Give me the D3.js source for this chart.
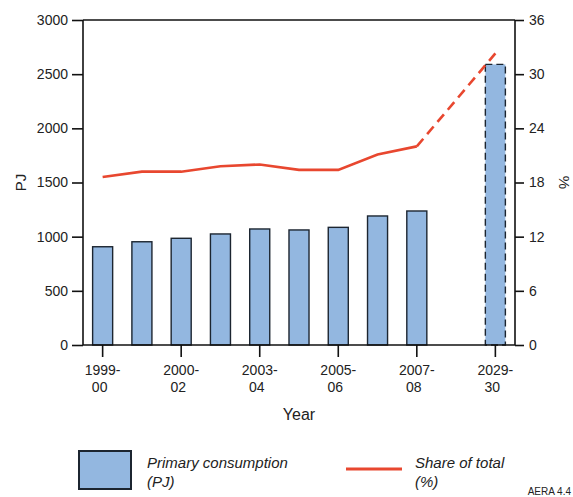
<!DOCTYPE html>
<html>
<head>
<meta charset="utf-8">
<script src="https://cdn.jsdelivr.net/npm/d3@7"></script>
<style>
  body { margin: 0; background: #fff; }
  svg text { font-family: "Liberation Sans", Arial, sans-serif; fill: #222; }
</style>
</head>
<body>
<div id="canvas"></div>
<script>
// data
var years = ["1999-00","2000-01","2000-02","2002-03","2003-04","2004-05","2005-06","2006-07","2007-08","","2029-30"];
var tickYears = ["1999-00","2000-02","2003-04","2005-06","2007-08","2029-30"];
var consumption = [907, 953, 985, 1025, 1071, 1062, 1086, 1191, 1237, null, 2590];
var share = [18.6, 19.2, 19.2, 19.8, 20.0, 19.4, 19.4, 21.1, 22.0, null, 32.3];
var leftTicks = [0, 500, 1000, 1500, 2000, 2500, 3000];
var rightTicks = [0, 6, 12, 18, 24, 30, 36];

var W = 573, H = 497;
var m = {t:20, r:58, b:152, l:83};
var w = W - m.l - m.r, h = H - m.t - m.b;

var svg = d3.select('#canvas').append('svg')
    .attr('width', W).attr('height', H);
var plot = svg.append('g').attr('transform', 'translate(' + m.l + ',' + m.t + ')');

var pad = 0.49;
var x = d3.scaleBand().domain(years).range([0, w]).paddingInner(pad).paddingOuter(pad / 2);
var yL = d3.scaleLinear().domain([0, 3000]).range([h, 0]);
var yR = d3.scaleLinear().domain([0, 36]).range([h, 0]);

var blue = '#93b7e0', dark = '#1c2530', red = '#e8472f';

// bars
var rows = years.map(function(d, i){ return {year:d, pj:consumption[i], pct:share[i], i:i}; });
plot.selectAll('rect.bar')
    .data(rows.filter(function(d){ return d.pj != null; }))
    .enter().append('rect')
    .attr('class', 'bar')
    .attr('x', function(d){ return x(d.year); })
    .attr('y', function(d){ return yL(d.pj); })
    .attr('width', x.bandwidth())
    .attr('height', function(d){ return h - yL(d.pj); })
    .attr('fill', blue)
    .attr('stroke', dark)
    .attr('stroke-width', 1.4)
    .attr('stroke-dasharray', function(d){ return d.year == '2029-30' ? '7,4' : null; });

// share line: solid for history, dashed to projection
var cx = function(d){ return x(d.year) + x.bandwidth() / 2; };
var line = d3.line().x(cx).y(function(d){ return yR(d.pct); });
var hist = rows.filter(function(d){ return d.pct != null && d.year != '2029-30'; });
var proj = [hist[hist.length - 1], rows[rows.length - 1]];
plot.append('path').datum(hist).attr('d', line)
    .attr('fill', 'none').attr('stroke', red).attr('stroke-width', 2.6);
plot.append('path').datum(proj).attr('d', line)
    .attr('fill', 'none').attr('stroke', red).attr('stroke-width', 2.6)
    .attr('stroke-dasharray', '10,6');

// axes
var axisL = d3.axisLeft(yL).tickValues(leftTicks).tickSize(11).tickPadding(4).tickFormat(d3.format('d'));
var axisR = d3.axisRight(yR).tickValues(rightTicks).tickSize(9).tickPadding(5).tickFormat(d3.format('d'));
var axisB = d3.axisBottom(x).tickValues(tickYears).tickSize(12).tickPadding(6)
    .tickFormat(function(){ return ''; });

var gL = plot.append('g').attr('class', 'axis').call(axisL);
var gR = plot.append('g').attr('class', 'axis').attr('transform', 'translate(' + w + ',0)').call(axisR);
var gB = plot.append('g').attr('class', 'axis').attr('transform', 'translate(0,' + h + ')').call(axisB);

plot.selectAll('.axis .domain').remove();
plot.selectAll('.axis line').attr('stroke', '#111').attr('stroke-width', 1.6);
plot.selectAll('.axis text').style('font-size', '14px').attr('fill', '#222');

// frame lines
plot.append('line').attr('x1', 0).attr('x2', w).attr('y1', 0).attr('y2', 0).attr('stroke', '#111').attr('stroke-width', 1.6);
plot.append('line').attr('x1', 0).attr('x2', w).attr('y1', h).attr('y2', h).attr('stroke', '#111').attr('stroke-width', 1.6);
plot.append('line').attr('x1', 0).attr('x2', 0).attr('y1', 0).attr('y2', h).attr('stroke', '#111').attr('stroke-width', 1.6);
plot.append('line').attr('x1', w).attr('x2', w).attr('y1', 0).attr('y2', h).attr('stroke', '#111').attr('stroke-width', 1.6);

// two-line year labels
gB.selectAll('.tick').each(function(d){
    var parts = d.split('-');
    var t = d3.select(this).append('text').attr('text-anchor', 'middle').style('font-size', '14px').attr('fill', '#222');
    t.append('tspan').attr('x', 0).attr('y', 30).text(parts[0] + '-');
    t.append('tspan').attr('x', -3).attr('y', 47).text(parts[1]);
});

// axis titles
plot.append('text').attr('x', w / 2).attr('y', h + 75).attr('text-anchor', 'middle')
    .style('font-size', '16px').text('Year');
plot.append('text').attr('transform', 'translate(-57,' + (h / 2) + ') rotate(-90)')
    .attr('text-anchor', 'middle').style('font-size', '15px').text('PJ');
plot.append('text').attr('transform', 'translate(' + (w + 44) + ',' + (h / 2) + ') rotate(90)')
    .attr('text-anchor', 'middle').style('font-size', '15px').text('%');

// legend
var lg = svg.append('g');
lg.append('rect').attr('x', 79).attr('y', 451).attr('width', 52).attr('height', 38)
    .attr('fill', blue).attr('stroke', dark).attr('stroke-width', 2);
lg.append('text').attr('x', 147).attr('y', 468).style('font-size', '15px').style('font-style', 'italic').text('Primary consumption');
lg.append('text').attr('x', 147).attr('y', 487).style('font-size', '15px').style('font-style', 'italic').text('(PJ)');
lg.append('line').attr('x1', 346).attr('x2', 402).attr('y1', 469).attr('y2', 469).attr('stroke', red).attr('stroke-width', 3);
lg.append('text').attr('x', 415).attr('y', 468).style('font-size', '15px').style('font-style', 'italic').text('Share of total');
lg.append('text').attr('x', 415).attr('y', 487).style('font-size', '15px').style('font-style', 'italic').text('(%)');
svg.append('text').attr('x', 571).attr('y', 495).attr('text-anchor', 'end').style('font-size', '10px').text('AERA 4.4');
</script>
</body>
</html>
